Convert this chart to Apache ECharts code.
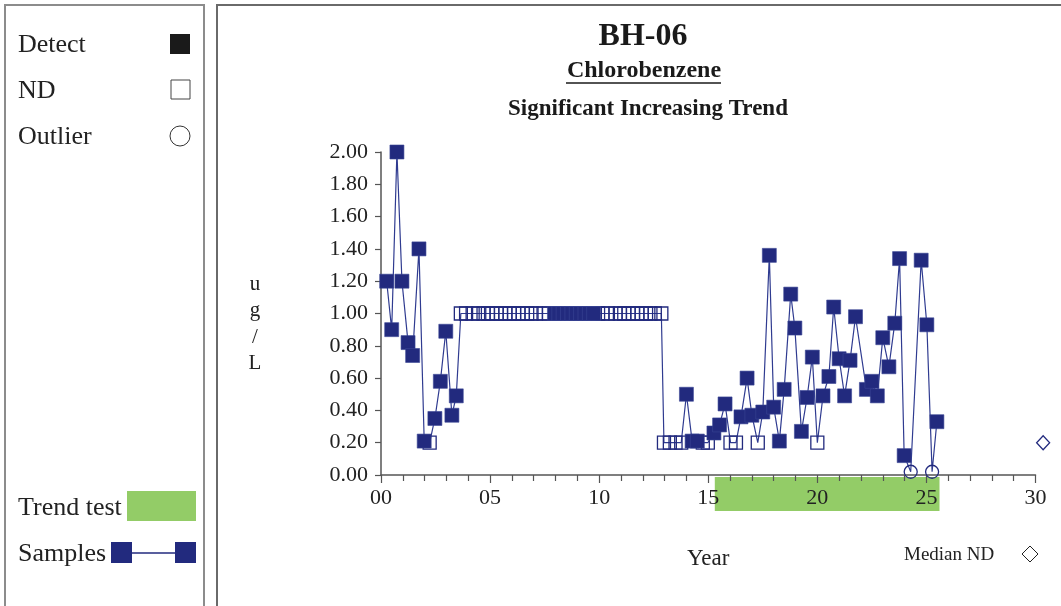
<!DOCTYPE html>
<html>
<head>
<meta charset="utf-8">
<script src="https://cdn.jsdelivr.net/npm/echarts@6/dist/echarts.min.js"></script>
<style>
html,body{margin:0;padding:0;background:#fff;}
#chart{width:1061px;height:606px;}
</style>
</head>
<body>
<div id="chart"></div>
<script>
// ---- data ----
const sampleYear = [
  0.26,0.49,0.73,0.96,1.24,1.45,1.74,1.98,2.23,2.47,2.72,2.97,3.25,3.45,
  3.66,3.9,4.2,4.45,4.7,4.9,5.1,5.3,5.5,5.7,5.9,6.1,6.3,6.5,6.7,6.9,7.1,7.45,7.7,
  7.95,8.15,8.35,8.55,8.75,8.95,9.15,9.35,9.55,9.75,
  9.95,10.15,10.4,
  10.75,10.95,11.15,11.35,11.55,11.75,11.95,12.15,12.35,12.55,12.85,
  12.97,13.24,13.5,13.76,14.0,14.26,14.5,14.75,14.98,15.26,15.52,15.77,
  16.02,16.27,16.5,16.78,17.0,17.27,17.5,17.8,18.0,18.26,18.48,18.78,18.97,
  19.27,19.53,19.77,20.0,20.26,20.53,20.75,21.0,21.25,21.5,21.75,
  22.25,22.5,22.75,23.0,23.28,23.55,23.77,23.98,24.28,24.76,25.02,25.26,25.48
];
const sampleValue = [
  1.20,0.90,2.00,1.20,0.82,0.74,1.40,0.21,0.20,0.35,0.58,0.89,0.37,0.49,
  1.00,1.00,1.00,1.00,1.00,1.00,1.00,1.00,1.00,1.00,1.00,1.00,1.00,1.00,1.00,1.00,1.00,1.00,1.00,
  1.00,1.00,1.00,1.00,1.00,1.00,1.00,1.00,1.00,1.00,
  1.00,1.00,1.00,
  1.00,1.00,1.00,1.00,1.00,1.00,1.00,1.00,1.00,1.00,1.00,
  0.20,0.20,0.20,0.20,0.50,0.21,0.21,0.20,0.20,0.26,0.31,0.44,
  0.20,0.20,0.36,0.60,0.37,0.20,0.39,1.36,0.42,0.21,0.53,1.12,0.91,
  0.27,0.48,0.73,0.20,0.49,0.61,1.04,0.72,0.49,0.71,0.98,
  0.53,0.58,0.49,0.85,0.67,0.94,1.34,0.12,0.02,1.33,0.93,0.02,0.33
];
// D = detect, N = non-detect, O = outlier
const sampleType = [
  'D','D','D','D','D','D','D','D','N','D','D','D','D','D',
  'N','N','N','N','N','N','N','N','N','N','N','N','N','N','N','N','N','N','N',
  'D','D','D','D','D','D','D','D','D','D',
  'N','N','N',
  'N','N','N','N','N','N','N','N','N','N','N',
  'N','N','N','N','D','D','D','N','N','D','D','D',
  'N','N','D','D','D','N','D','D','D','D','D','D','D',
  'D','D','D','N','D','D','D','D','D','D','D',
  'D','D','D','D','D','D','D','D','O','D','D','O','D'
];
const medianND = [30.35, 0.20];
const trendRange = [15.3, 25.6];
const xTicks = {min: 0, max: 30, step: 5};
const yTicks = {min: 0, max: 2, step: 0.2};

// ---- build ----
const NAVY = '#222a7e';
const LINE = '#2f3b90';
const FONT = '"Liberation Serif", "Times New Roman", serif';
const pts = sampleYear.map((t, i) => [t, sampleValue[i]]);
const pick = k => pts.filter((p, i) => sampleType[i] === k);

const chart = echarts.init(document.getElementById('chart'));
const gLeft = 381, gRight = 1061 - 1035.5, gTop = 152, gH = 323;
const legText = (t, y) => ({type: 'text', x: 18, y: y, style: {text: t, fontFamily: FONT, fontSize: 26, fill: '#222', textVerticalAlign: 'middle'}});

chart.setOption({
  animation: false,
  backgroundColor: '#fff',
  grid: [
    {left: gLeft, right: gRight, top: gTop, height: gH},
    {left: gLeft, right: gRight, top: 477, height: 34}
  ],
  xAxis: [{
    type: 'value', gridIndex: 0, min: xTicks.min, max: xTicks.max, interval: xTicks.step,
    name: 'Year', nameLocation: 'middle', nameGap: 72,
    nameTextStyle: {fontFamily: FONT, fontSize: 23, color: '#222'},
    axisLine: {show: true, lineStyle: {color: '#555', width: 1.5}},
    axisTick: {show: true, inside: false, length: 8, lineStyle: {color: '#555', width: 1.2}},
    minorTick: {show: true, splitNumber: 5, length: 6, lineStyle: {color: '#555', width: 1.2}},
    splitLine: {show: false},
    axisLabel: {fontFamily: FONT, fontSize: 22, color: '#222', margin: 12,
      formatter: v => String(v).padStart(2, '0')}
  }, {
    type: 'value', gridIndex: 1, min: xTicks.min, max: xTicks.max, show: false
  }],
  yAxis: [{
    type: 'value', gridIndex: 0, min: yTicks.min, max: yTicks.max, interval: yTicks.step,
    axisLine: {show: true, lineStyle: {color: '#555', width: 1.5}},
    axisTick: {show: true, inside: false, length: 6, lineStyle: {color: '#555', width: 1.2}},
    splitLine: {show: false},
    axisLabel: {fontFamily: FONT, fontSize: 22, color: '#222', margin: 13,
      formatter: v => v.toFixed(2)}
  }, {
    type: 'value', gridIndex: 1, min: 0, max: 1, show: false
  }],
  graphic: [
    {type: 'rect', shape: {x: 5, y: 5, width: 199, height: 700}, style: {fill: 'none', stroke: '#8c8c8c', lineWidth: 2}},
    {type: 'rect', shape: {x: 217, y: 5, width: 900, height: 700}, style: {fill: 'none', stroke: '#6a6a6a', lineWidth: 2}},
    {type: 'text', x: 643, y: 37, style: {text: 'BH-06', textAlign: 'center', textVerticalAlign: 'middle', fontFamily: FONT, fontSize: 32, fontWeight: 'bold', fill: '#1a1a1a'}},
    {type: 'text', x: 644, y: 71, style: {text: 'Chlorobenzene', textAlign: 'center', textVerticalAlign: 'middle', fontFamily: FONT, fontSize: 24, fontWeight: 'bold', fill: '#1a1a1a'}},
    {type: 'line', shape: {x1: 566, y1: 83, x2: 721, y2: 83}, style: {stroke: '#1a1a1a', lineWidth: 1.5}},
    {type: 'text', x: 648, y: 109, style: {text: 'Significant Increasing Trend', textAlign: 'center', textVerticalAlign: 'middle', fontFamily: FONT, fontSize: 23, fontWeight: 'bold', fill: '#1a1a1a'}},
    {type: 'text', x: 255, y: 324, style: {text: 'u\ng\n/\nL', textAlign: 'center', textVerticalAlign: 'middle', lineHeight: 26.5, fontFamily: FONT, fontSize: 21, fill: '#222'}},
    legText('Detect', 45),
    {type: 'rect', shape: {x: 170, y: 34, width: 20, height: 20}, style: {fill: '#1a1a1a'}},
    legText('ND', 91),
    {type: 'rect', shape: {x: 171, y: 80, width: 19, height: 19}, style: {fill: 'none', stroke: '#444', lineWidth: 1}},
    legText('Outlier', 137),
    {type: 'circle', shape: {cx: 180, cy: 136, r: 10}, style: {fill: 'none', stroke: '#333', lineWidth: 1}},
    legText('Trend test', 508),
    {type: 'rect', shape: {x: 127, y: 491, width: 69, height: 30}, style: {fill: '#93cc67'}},
    legText('Samples', 554),
    {type: 'line', shape: {x1: 122, y1: 553, x2: 185, y2: 553}, style: {stroke: NAVY, lineWidth: 1.3}},
    {type: 'rect', shape: {x: 111, y: 542, width: 21, height: 21}, style: {fill: NAVY}},
    {type: 'rect', shape: {x: 175, y: 542, width: 21, height: 21}, style: {fill: NAVY}},
    {type: 'text', x: 904, y: 555, style: {text: 'Median ND', fontFamily: FONT, fontSize: 19, fill: '#222', textVerticalAlign: 'middle'}},
    {type: 'polygon', shape: {points: [[1030, 546], [1038, 554], [1030, 562], [1022, 554]]}, style: {fill: 'none', stroke: '#222', lineWidth: 1}}
  ],
  series: [
    {
      type: 'custom', xAxisIndex: 1, yAxisIndex: 1, z: -1, silent: true,
      data: [trendRange],
      renderItem: (params, api) => {
        const p1 = api.coord([api.value(0), 1]);
        const p2 = api.coord([api.value(1), 0]);
        return {type: 'rect', shape: {x: p1[0], y: p1[1], width: p2[0] - p1[0], height: p2[1] - p1[1]}, style: {fill: '#93cc67'}};
      }
    },
    {
      type: 'line', data: pts, showSymbol: false, symbol: 'none',
      lineStyle: {color: LINE, width: 1.2}, z: 2
    },
    {
      type: 'scatter', data: pick('N'), symbol: 'rect', symbolSize: 13, z: 3,
      itemStyle: {color: 'rgba(255,255,255,0)', borderColor: NAVY, borderWidth: 1.3, opacity: 1}
    },
    {
      type: 'scatter', data: pick('D'), symbol: 'rect', symbolSize: 14, z: 4,
      itemStyle: {color: NAVY, borderColor: '#3a4796', borderWidth: 0.6, opacity: 1}
    },
    {
      type: 'scatter', data: pick('O'), symbol: 'circle', symbolSize: 13, z: 4,
      itemStyle: {color: 'rgba(255,255,255,0)', borderColor: NAVY, borderWidth: 1.3, opacity: 1}
    },
    {
      type: 'scatter', data: [medianND], symbol: 'diamond', symbolSize: [13, 14], clip: false, z: 4,
      itemStyle: {color: 'rgba(255,255,255,0)', borderColor: NAVY, borderWidth: 1.3, opacity: 1}
    }
  ]
});
</script>
</body>
</html>
